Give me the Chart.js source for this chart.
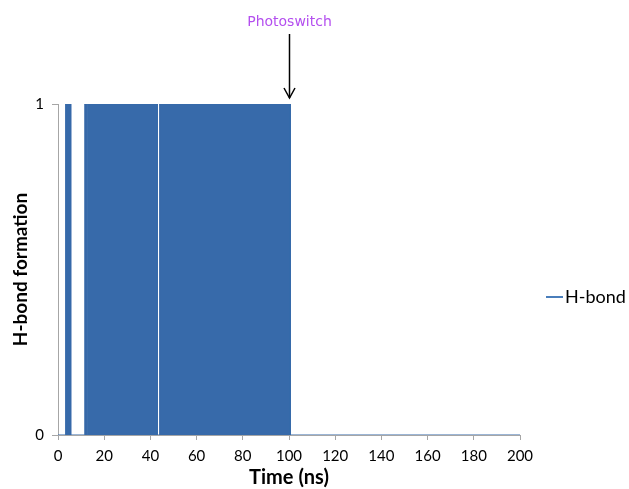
<!DOCTYPE html>
<html>
<head>
<meta charset="utf-8">
<script src="https://cdn.jsdelivr.net/npm/chart.js@4.4.0/dist/chart.umd.min.js"></script>
<style>
html,body{margin:0;padding:0;background:#fff;}
#wrap{width:629px;height:489px;position:relative;}
</style>
</head>
<body>
<div id="wrap"><canvas id="c" width="629" height="489"></canvas></div>
<script>
// Time (ns) at each step edge, and H-bond state (0/1)
const timeNs = [0, 3.3, 3.3, 5.5, 5.5, 11.6, 11.6, 12.3, 12.3, 12.8, 12.8, 43.0, 43.0, 44.0, 44.0, 100.6, 100.6, 200];
const hbond  = [0, 0,   1,   1,   0,   0,    1,    1,    0,    0,    1,    1,    0,    0,    1,    1,     0,     0];
const xTicks = [0, 20, 40, 60, 80, 100, 120, 140, 160, 180, 200];
const yTicks = [0, 1];
const seriesName = "H-bond";
const annotationLabel = "Photoswitch";
const annotationTime = 100;

const points = timeNs.map((t, i) => ({x: t, y: hbond[i]}));

const extras = {
  id: 'extras',
  afterDraw(chart) {
    const ctx = chart.ctx;
    const xs = chart.scales.x;
    const ys = chart.scales.y;
    const ax = Math.round(xs.getPixelForValue(annotationTime)) + 0.5;
    const top = ys.getPixelForValue(1);
    ctx.save();
    // annotation text
    ctx.fillStyle = '#B44FEF';
    ctx.font = '14px "DejaVu Sans"';
    ctx.textAlign = 'center';
    ctx.textBaseline = 'middle';
    ctx.fillText(annotationLabel, ax, 22);
    // arrow
    ctx.strokeStyle = '#000';
    ctx.lineWidth = 1.5;
    ctx.beginPath();
    ctx.moveTo(ax, 34);
    ctx.lineTo(ax, top - 6);
    ctx.stroke();
    ctx.beginPath();
    ctx.moveTo(ax - 5.5, top - 16);
    ctx.lineTo(ax, top - 6);
    ctx.lineTo(ax + 5.5, top - 16);
    ctx.stroke();
    // legend
    const ly = 297;
    ctx.strokeStyle = '#4A7EBB';
    ctx.lineWidth = 2;
    ctx.beginPath();
    ctx.moveTo(546, ly);
    ctx.lineTo(563, ly);
    ctx.stroke();
    ctx.fillStyle = '#000';
    ctx.font = '18px Lato';
    ctx.textAlign = 'left';
    ctx.textBaseline = 'middle';
    ctx.fillText(seriesName, 565, ly);
    ctx.restore();
  }
};

new Chart(document.getElementById('c'), {
  type: 'line',
  data: {
    datasets: [{
      label: seriesName,
      data: points,
      borderColor: '#376AAA',
      backgroundColor: '#376AAA',
      borderWidth: 1,
      fill: 'origin',
      pointRadius: 0,
      tension: 0
    }]
  },
  options: {
    responsive: false,
    animation: false,
    layout: {padding: {top: 104, right: 109, bottom: 0, left: 0}},
    plugins: {legend: {display: false}, tooltip: {enabled: false}},
    scales: {
      x: {
        type: 'linear',
        min: 0, max: 200,
        afterBuildTicks(scale) { scale.ticks = xTicks.map(v => ({value: v})); },
        afterFit(scale) { scale.height = 489 - 435; },
        grid: {display: true, drawOnChartArea: false, color: '#A6A6A6', tickLength: 5},
        border: {color: '#A6A6A6'},
        ticks: {color: '#000', font: {family: 'Lato', size: 15}, padding: 7, maxRotation: 0},
        title: {display: true, text: 'Time (ns)', color: '#000', font: {family: 'Lato', size: 20, weight: 'bold'}, padding: {top: 0, bottom: -1}}
      },
      y: {
        min: 0, max: 1,
        afterBuildTicks(scale) { scale.ticks = yTicks.map(v => ({value: v})); },
        afterFit(scale) { scale.width = 58; },
        grid: {display: true, drawOnChartArea: false, color: '#A6A6A6', tickLength: 6},
        border: {color: '#A6A6A6'},
        ticks: {color: '#000', font: {family: 'Lato', size: 15}, padding: 8},
        title: {display: true, text: 'H-bond formation', color: '#000', font: {family: 'Lato', size: 19, weight: 'bold'}, padding: {top: 9, bottom: 0}}
      }
    }
  },
  plugins: [extras]
});
</script>
</body>
</html>
